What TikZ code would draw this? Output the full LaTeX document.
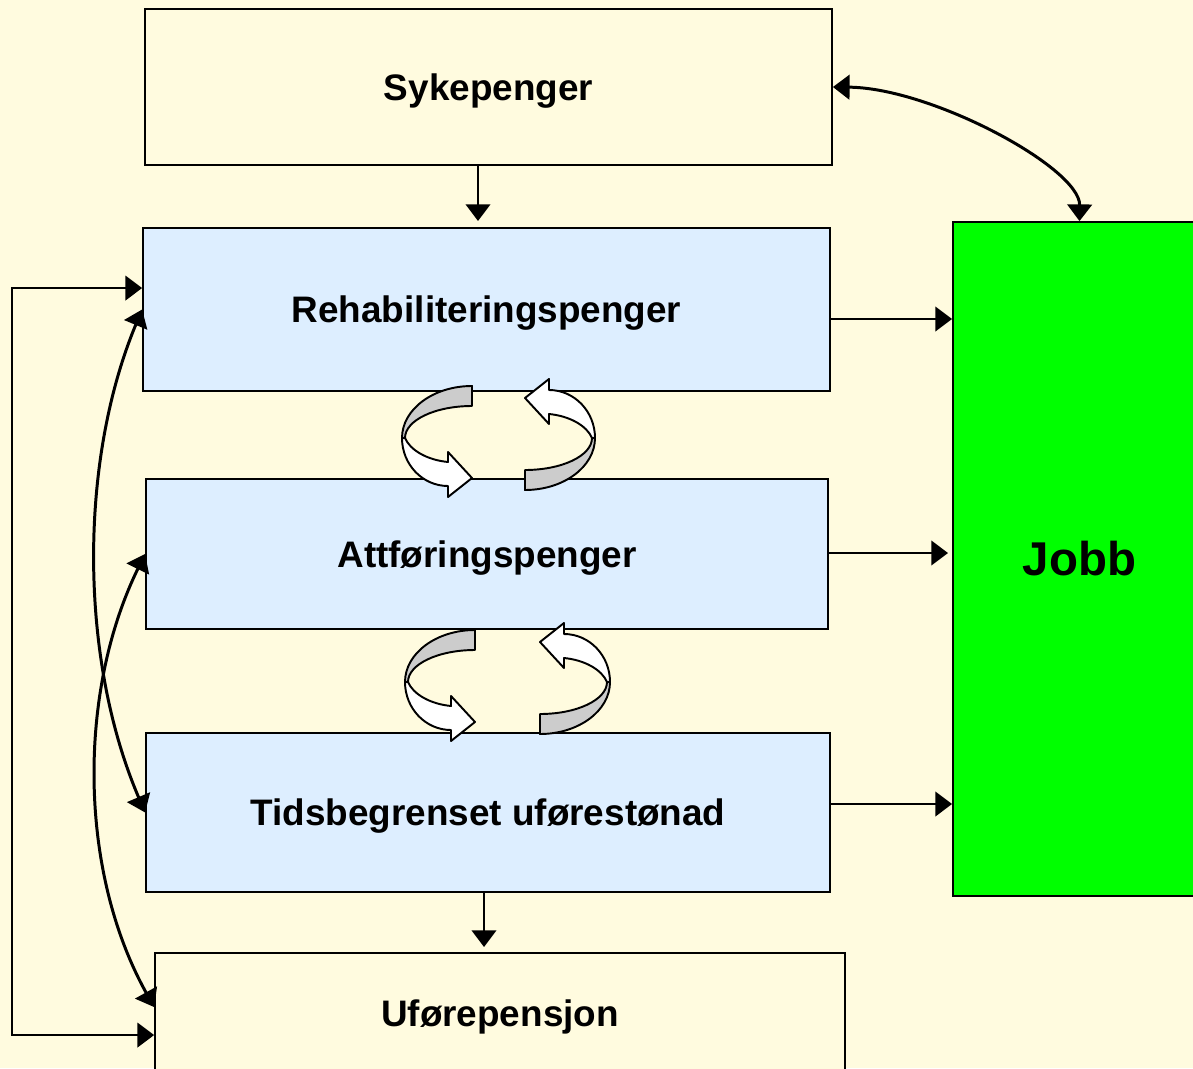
\documentclass[tikz,border=0pt]{standalone}
\usepackage{fontspec}
\setmainfont{Liberation Sans}
\usetikzlibrary{arrows.meta,calc}
\definecolor{bgcream}{HTML}{FFFBDF}
\definecolor{boxblue}{HTML}{DDEEFF}
\definecolor{ringgray}{HTML}{CCCCCC}
\definecolor{jobbgreen}{HTML}{00FF00}
\newcommand\myRingHalf{%
  \filldraw[ringline, fill=ringgray] (0,-52) -- (0,-32) .. controls (-37,-32) and (-67,-17.7) .. (-67,0)
     -- (-70,0) .. controls (-70,-28.7) and (-38.7,-52) .. (0,-52) -- cycle;
  \filldraw[ringline, fill=white] (-70,0) .. controls (-70,26.5) and (-49.4,48) .. (-24,48)
     -- (-24,59) -- (0,40) -- (-24,14) -- (-24,24) .. controls (-45,22) and (-62,12) .. (-67,0) -- cycle;
}
\begin{document}
\begin{tikzpicture}[x=0.02cm,y=-0.02cm,
  boxbase/.style={draw=black, line width=1.1pt, rectangle, inner sep=0pt,
    font=\fontsize{21}{25}\selectfont\bfseries},
  creambox/.style={boxbase, fill=bgcream},
  bluebox/.style={boxbase, fill=boxblue, text depth=0pt},
  arr/.style={line width=1.1pt, -{Triangle[length=9.5pt,width=14pt]}},
  biarr/.style={line width=1.1pt, {Triangle[length=9.5pt,width=14pt]}-{Triangle[length=9.5pt,width=14pt]}},
  curvearr/.style={line width=1.7pt, {Triangle[length=9.5pt,width=14pt]}-{Triangle[length=9.5pt,width=14pt]}},
  ringline/.style={draw=black, line width=1.1pt, line join=round}
]
\path[use as bounding box] (0,0) rectangle (1193,1068);
\clip (0,0) rectangle (1193,1068);
\fill[bgcream] (0,0) rectangle (1193,1068);

% boxes
\node[creambox, text depth=0pt, minimum width=13.74cm, minimum height=3.12cm] (syk) at (488.5,87) {Sykepenger};
\node[bluebox, minimum width=13.74cm, minimum height=3.26cm] (rehab) at (486.5,309.5) {Rehabiliteringspenger};
\node[bluebox, minimum width=13.64cm, minimum height=3.0cm] (attf) at (487,554) {Attføringspenger};
\node[bluebox, minimum width=13.68cm, minimum height=3.18cm] (tids) at (488,812.5) {Tidsbegrenset uførestønad};
\node[creambox, minimum width=13.8cm, minimum height=2.54cm] (ufore) at (500,1016.5) {Uførepensjon};
\node[draw=black, line width=1.1pt, fill=jobbgreen, inner sep=0pt, minimum width=5.06cm, minimum height=13.48cm,
  font=\fontsize{27}{32}\selectfont\bfseries] (jobb) at (1079.5,559) {Jobb};

% straight arrows
\coordinate (t1) at (478,221);
\draw[arr] (syk.south -| t1) -- (t1);
\coordinate (t2) at (484,947);
\draw[arr] (tids.south -| t2) -- (t2);
\coordinate (r1) at (0,319);
\draw[arr] (rehab.east |- r1) -- (jobb.west |- r1);
\coordinate (r2) at (948,553);
\draw[arr] (attf.east |- r2) -- (r2);
\coordinate (r3) at (0,804);
\draw[arr] (tids.east |- r3) -- (jobb.west |- r3);

% Sykepenger <-> Jobb
\draw[curvearr] (syk.east) .. controls (932,88) and (1080,168) .. (jobb.north);

% left side
\coordinate (lrail) at (12,0);
\coordinate (ls) at ($(rehab.north west)+(0,61)$);
\coordinate (le) at ($(ufore.north west)+(0,83)$);
\draw[biarr] (ls) -- (ls -| lrail) |- (le);
\coordinate (u1) at ($(ufore.north west)+(0,55)$);
\draw[curvearr] (rehab.west) .. controls (79,461) and (79,658) .. (tids.west);
\draw[curvearr] (attf.west) .. controls (78,691) and (78,870) .. (u1);

% ring arrows
\begin{scope}[shift={(498.5,438)}]
  \begin{scope}[shift={(-26.5,0)}]\myRingHalf\end{scope}
  \begin{scope}[rotate=180]\begin{scope}[shift={(-26.5,0)}]\myRingHalf\end{scope}\end{scope}
\end{scope}
\begin{scope}[shift={(507.5,682)}]
  \begin{scope}[shift={(-32.5,0)}]\myRingHalf\end{scope}
  \begin{scope}[rotate=180]\begin{scope}[shift={(-32.5,0)}]\myRingHalf\end{scope}\end{scope}
\end{scope}
\end{tikzpicture}
\end{document}
